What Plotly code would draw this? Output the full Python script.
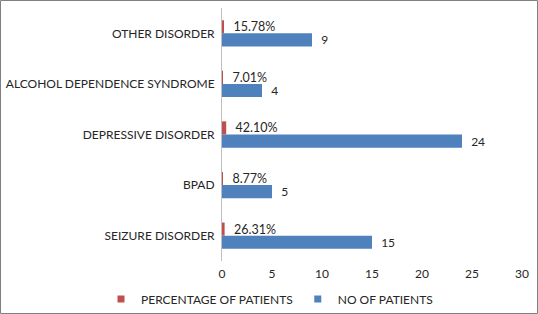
import plotly.graph_objects as go

categories = ["SEIZURE DISORDER", "BPAD", "DEPRESSIVE DISORDER",
              "ALCOHOL DEPENDENCE SYNDROME", "OTHER DISORDER"]
no_of_patients = [15, 5, 24, 4, 9]
percentage_of_patients = [0.2631, 0.0877, 0.4210, 0.0701, 0.1578]
percentage_labels = ["26.31%", "8.77%", "42.10%", "7.01%", "15.78%"]
x_ticks = [0, 5, 10, 15, 20, 25, 30]

FONT = "Lato, 'Open Sans', sans-serif"
TXT = "#262626"
BLUE = "#4F81BD"
RED = "#C0504D"
pad = "\u00a0\u00a0"

fig = go.Figure()
fig.add_trace(go.Bar(
    y=categories, x=no_of_patients, orientation="h", name="NO OF PATIENTS",
    marker=dict(color=BLUE, line=dict(width=0)), showlegend=False,
    text=[pad + str(v) for v in no_of_patients], textposition="outside",
    constraintext="none",
    textfont=dict(family=FONT, size=12, color=TXT), cliponaxis=False,
))
fig.add_trace(go.Bar(
    y=categories, x=percentage_of_patients, orientation="h", name="PERCENTAGE OF PATIENTS",
    marker=dict(color=RED, line=dict(width=0)), showlegend=False,
    text=[pad + s for s in percentage_labels], textposition="outside",
    constraintext="none",
    textfont=dict(family=FONT, size=12.5, color=TXT), cliponaxis=False,
))
# legend-only entries (small square swatches like the reference)
fig.add_trace(go.Scatter(x=[None], y=[None], mode="markers", name="PERCENTAGE OF PATIENTS",
                         marker=dict(symbol="square", size=7, color=RED)))
fig.add_trace(go.Scatter(x=[None], y=[None], mode="markers", name="NO OF PATIENTS",
                         marker=dict(symbol="square", size=7, color=BLUE)))

W, H = 538, 314
ml, mr, mt, mb = 222, 16, 8, 53
pw, ph = W - ml - mr, H - mt - mb

fig.update_layout(
    width=W, height=H,
    margin=dict(l=ml, r=mr, t=mt, b=mb, pad=0, autoexpand=False),
    paper_bgcolor="white", plot_bgcolor="white",
    barmode="group", bargap=0.48, bargroupgap=0,
    font=dict(family=FONT, size=12, color=TXT),
    xaxis=dict(range=[0, 30], tickvals=x_ticks, showgrid=False, zeroline=False,
               showline=False, ticks="outside", ticklen=2, tickcolor="rgba(0,0,0,0)",
               tickfont=dict(family=FONT, size=12, color=TXT), fixedrange=True,
               automargin=False),
    yaxis=dict(showgrid=False, zeroline=False, showline=True, linecolor="#BFBFBF",
               linewidth=1, ticks="outside", ticklen=4, tickcolor="rgba(0,0,0,0)",
               tickfont=dict(family=FONT, size=12, color=TXT), fixedrange=True,
               automargin=False),
    legend=dict(orientation="h", x=(101 - ml) / pw, xanchor="left",
                y=(H - mb - 299) / ph, yanchor="middle",
                traceorder="normal", font=dict(family=FONT, size=12, color=TXT),
                itemwidth=30, bgcolor="rgba(0,0,0,0)"),
    showlegend=True,
    shapes=[dict(type="rect", xref="paper", yref="paper",
                 x0=(0.5 - ml) / pw, x1=(W - 0.5 - ml) / pw,
                 y0=(H - mb - (H - 0.5)) / ph, y1=(H - mb - 0.5) / ph,
                 line=dict(color="#808080", width=1), fillcolor="rgba(0,0,0,0)",
                 layer="below")],
)

fig.write_html("out.html", config={"displayModeBar": False},
               post_script="document.body.style.margin='0';document.body.style.padding='0';")
